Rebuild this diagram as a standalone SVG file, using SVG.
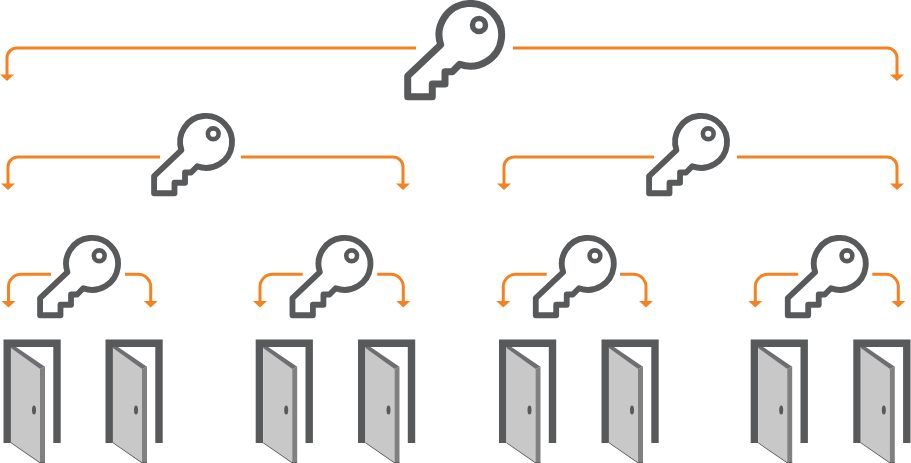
<svg xmlns="http://www.w3.org/2000/svg" width="911" height="463" viewBox="0 0 911 463">
<style>
.c{fill:none;stroke:#f58220;stroke-width:3}
.h{fill:#f58220}
.k{fill:none;stroke:#58595b;stroke-width:7;stroke-linejoin:round}
.f{fill:none;stroke:#58595b;stroke-width:7.4}
</style>
<defs>
<path id="a" class="h" d="M-7 -6.500H7L0 0Z"/>
<g id="key">
<path class="k" d="M36.700 44.800A31.300 31.300 0 1 1 55.700 64.200L48.300 71.700H41V84H28.300V96.700H3.700V76Z"/>
<circle class="k" cx="75" cy="25" r="6.500" style="stroke-width:5.500"/>
</g>
<g id="door">
<path class="f" d="M3.700 103.500V3.700H53.500V103.500"/>
<path d="M7.500 8L36.500 29.500V122.800L7.500 102.800Z" fill="#c8c8c8"/>
<path d="M36.500 29.500L41.500 27.200V123.500H36.500Z" fill="#808080"/>
<path d="M7.500 7.400H12.500L41.500 27.200L36.500 29.500L7.500 8.500Z" fill="#6d6e71"/>
<path d="M7.500 102.800L36.500 122.800H41.500V123.500H36L7.500 103.800Z" fill="#58595b"/>
<ellipse cx="30.500" cy="70.500" rx="2" ry="4.500" fill="#58595b"/>
</g>
</defs>
<g id="connectors">
<path class="c" d="M416 48H17A10 10 0 0 0 7 58V76"/>
<path class="c" d="M513 48H887A10 10 0 0 1 897 58V76"/>
<path class="c" d="M160 157H18A10 10 0 0 0 8 167V185"/>
<path class="c" d="M241 157H393A10 10 0 0 1 403 167V185"/>
<path class="c" d="M654 157H514A10 10 0 0 0 504 167V185"/>
<path class="c" d="M737 157H887A10 10 0 0 1 897 167V185"/>
<path class="c" d="M51 274.300H21A12.500 12.500 0 0 0 8.500 286.800V302"/>
<path class="c" d="M125 274.300H138A12.500 12.500 0 0 1 150.700 286.800V302"/>
<path class="c" d="M302.700 274.300H272.500A12.500 12.500 0 0 0 260 286.800V302"/>
<path class="c" d="M377.300 274.300H390.800A12.500 12.500 0 0 1 403.300 286.800V302"/>
<path class="c" d="M546.700 274.300H515.800A12.500 12.500 0 0 0 503.300 286.800V302"/>
<path class="c" d="M620 274.300H633.500A12.500 12.500 0 0 1 646 286.800V302"/>
<path class="c" d="M798.300 274.300H767.800A12.500 12.500 0 0 0 755.300 286.800V302"/>
<path class="c" d="M872.300 274.300H885.800A12.500 12.500 0 0 1 898.300 286.800V302"/>
<use href="#a" x="7" y="81"/><use href="#a" x="897" y="81"/>
<use href="#a" x="8" y="190"/><use href="#a" x="403" y="190"/>
<use href="#a" x="504" y="190"/><use href="#a" x="897" y="190"/>
<use href="#a" x="8.500" y="307.500"/><use href="#a" x="150.700" y="307.500"/>
<use href="#a" x="260" y="307.500"/><use href="#a" x="403.300" y="307.500"/>
<use href="#a" x="503.300" y="307.500"/><use href="#a" x="646" y="307.500"/>
<use href="#a" x="755.300" y="307.500"/><use href="#a" x="898.300" y="307.500"/>
</g>
<g id="key-root"><use href="#key" transform="translate(404 0)"/></g>
<g id="key-l"><use href="#key" transform="translate(151 113) scale(.83)"/></g>
<g id="key-r"><use href="#key" transform="translate(646 113) scale(.83)"/></g>
<g id="key-1"><use href="#key" transform="translate(37 235) scale(.83)"/></g>
<g id="key-2"><use href="#key" transform="translate(289.400 235) scale(.83)"/></g>
<g id="key-3"><use href="#key" transform="translate(532.700 235) scale(.83)"/></g>
<g id="key-4"><use href="#key" transform="translate(784.700 235) scale(.83)"/></g>
<g id="door-1"><use href="#door" transform="translate(3.500 339.500)"/></g>
<g id="door-2"><use href="#door" transform="translate(105.500 339.500)"/></g>
<g id="door-3"><use href="#door" transform="translate(255.700 339.500)"/></g>
<g id="door-4"><use href="#door" transform="translate(358 339.500)"/></g>
<g id="door-5"><use href="#door" transform="translate(499 339.500)"/></g>
<g id="door-6"><use href="#door" transform="translate(601.500 339.500)"/></g>
<g id="door-7"><use href="#door" transform="translate(750.700 339.500)"/></g>
<g id="door-8"><use href="#door" transform="translate(853.300 339.500)"/></g>
</svg>
